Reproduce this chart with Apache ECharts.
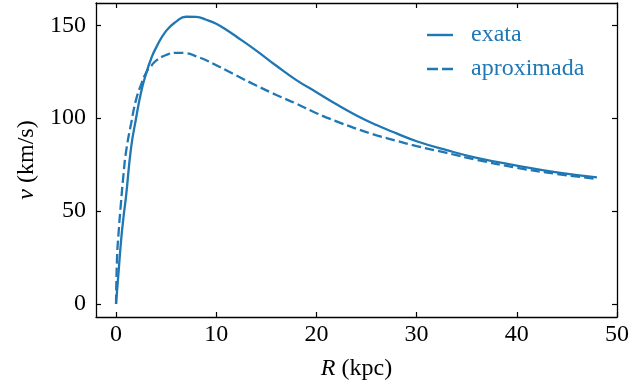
<!DOCTYPE html>
<html>
<head>
<meta charset="utf-8">
<script src="https://cdn.jsdelivr.net/npm/echarts@6/dist/echarts.min.js"></script>
<style>html,body{margin:0;padding:0;background:#fff}#c{width:642px;height:387px}</style>
</head>
<body>
<div id="c"></div>
<script>
const radius = [0, 0.1, 0.25, 0.5, 0.75, 1, 1.5, 2, 2.5, 3, 3.5, 4, 5, 6, 7, 8, 9, 10, 11, 12, 14, 16, 18, 20, 22, 24, 26, 28, 30, 33, 36, 40, 44, 48];
const vExata = [0, 7, 17, 34, 47, 58, 84, 100, 114, 124, 132, 138, 147, 152, 154.6, 154.5, 153, 150.8, 147.6, 144, 136.4, 128.2, 120.5, 114, 107.5, 101.5, 96.3, 91.8, 87.6, 82.8, 78.7, 74.5, 70.8, 68.1];
const vAprox = [0, 25, 38, 55, 70, 82, 97, 110, 118, 124.5, 128, 131, 134, 135.2, 135, 133.3, 131.2, 128.5, 125.8, 123, 117.6, 112.5, 107.8, 102.7, 98.3, 94.3, 90.8, 87.8, 85, 81.3, 77.6, 73.3, 70, 67.3];
const xTicks = [0, 10, 20, 30, 40, 50];
const yTicks = [0, 50, 100, 150];
const seriesNames = ['exata', 'aproximada'];

const blue = '#1f77b4';
const font = 'Liberation Serif, serif';
const dash = [9.5, 4];
const pairs = (xs, ys) => xs.map((x, i) => [x, ys[i]]);

function xAx(pos, labels) {
  return {
    type: 'value', position: pos, min: -2, max: 50,
    axisLine: { show: true, onZero: false, lineStyle: { color: '#000', width: 1.3 } },
    axisTick: { show: true, inside: true, length: 5, lineStyle: { color: '#000', width: 1.2 }, customValues: xTicks },
    axisLabel: { show: labels, customValues: xTicks, margin: 6, fontFamily: font, fontSize: 24, color: '#000' },
    splitLine: { show: false },
    name: labels ? '{i|R} (kpc)' : '', nameLocation: 'middle', nameGap: 40,
    nameTextStyle: { fontFamily: font, fontSize: 24, color: '#000', rich: { i: { fontFamily: font, fontSize: 24, fontStyle: 'italic', color: '#000' } } }
  };
}
function yAx(pos, labels) {
  return {
    type: 'value', position: pos, min: -7, max: 162,
    axisLine: { show: true, onZero: false, lineStyle: { color: '#000', width: 1.3 } },
    axisTick: { show: true, inside: true, length: 5, lineStyle: { color: '#000', width: 1.2 }, customValues: yTicks },
    axisLabel: { show: labels, customValues: yTicks, margin: 10, fontFamily: font, fontSize: 24, color: '#000' },
    splitLine: { show: false },
    name: labels ? '{i|v} (km/s)' : '', nameLocation: 'middle', nameGap: 55,
    nameTextStyle: { fontFamily: font, fontSize: 24, color: '#000', rich: { i: { fontFamily: font, fontSize: 24, fontStyle: 'italic', color: '#000' } } }
  };
}

const chart = echarts.init(document.getElementById('c'), null, { renderer: 'canvas' });
chart.setOption({
  animation: false,
  backgroundColor: '#fff',
  grid: { left: 96, top: 3, right: 25, bottom: 70, containLabel: false },
  xAxis: [xAx('bottom', true), xAx('top', false)],
  yAxis: [yAx('left', true), yAx('right', false)],
  legend: {
    orient: 'vertical', left: 422, top: 18, itemWidth: 26, itemHeight: 2.4, itemGap: 10,
    textStyle: { fontFamily: font, fontSize: 24, color: blue, padding: [0, 0, 0, 13] },
    itemStyle: { color: blue, borderWidth: 0 },
    lineStyle: { opacity: 0 },
    data: [
      { name: seriesNames[0], icon: 'path://M0,0h26v2.4h-26z' },
      { name: seriesNames[1], icon: 'path://M0,0h11v2.4h-11z M15,0h11v2.4h-11z' }
    ]
  },
  series: [
    { name: seriesNames[0], type: 'line', data: pairs(radius, vExata), showSymbol: false, symbol: 'none', smooth: 0.5,
      lineStyle: { color: blue, width: 2.3 }, itemStyle: { color: blue } },
    { name: seriesNames[1], type: 'line', data: pairs(radius, vAprox), showSymbol: false, symbol: 'none', smooth: 0.5,
      lineStyle: { color: blue, width: 2.3, type: dash }, itemStyle: { color: blue } }
  ]
});
</script>
</body>
</html>
